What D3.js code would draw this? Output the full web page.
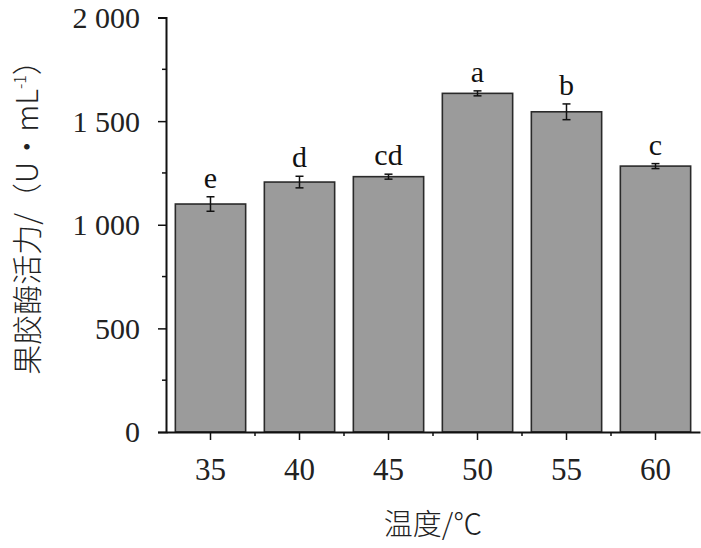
<!DOCTYPE html>
<html lang="zh">
<head>
<meta charset="UTF-8">
<title>果胶酶活力-温度</title>
<script src="https://d3js.org/d3.v7.min.js"></script>
<style>
  body { margin: 0; background: #fff; }
</style>
</head>
<body>
<script>
// 数据
var temps = ["35", "40", "45", "50", "55", "60"];
var activity = [1100, 1206, 1232, 1634, 1545, 1283];
var errors = [35, 28, 12, 12, 38, 12];
var letters = ["e", "d", "cd", "a", "b", "c"];
var yTicks = [0, 500, 1000, 1500, 2000];
var yTickLabels = ["0", "500", "1 000", "1 500", "2 000"];

var serif = "'Liberation Serif', 'DejaVu Serif', serif";
var cjk = "'Noto Sans CJK SC', sans-serif";

var width = 701, height = 548;
var margin = {left: 166, right: 1, top: 17.5, bottom: 116};

var svg = d3.select("body").append("svg")
    .attr("width", width)
    .attr("height", height);

var x = d3.scaleBand()
    .domain(temps)
    .range([margin.left, width - margin.right])
    .paddingInner(0.21)
    .paddingOuter(0.105);

var y = d3.scaleLinear()
    .domain([0, 2000])
    .range([height - margin.bottom, margin.top]);

// 柱子
svg.selectAll("rect.bar")
    .data(activity)
    .enter()
    .append("rect")
    .attr("class", "bar")
    .attr("x", function(d, i) { return x(temps[i]); })
    .attr("y", function(d) { return y(d); })
    .attr("width", x.bandwidth())
    .attr("height", function(d) { return y(0) - y(d); })
    .attr("fill", "#9b9b9b")
    .attr("stroke", "#2a2a2a")
    .attr("stroke-width", 1.6);

// 误差线
var cap = 4;
var eb = svg.selectAll("g.err")
    .data(activity)
    .enter()
    .append("g")
    .attr("class", "err")
    .attr("stroke", "#111")
    .attr("stroke-width", 1.5);
eb.append("line")
    .attr("x1", function(d, i) { return x(temps[i]) + x.bandwidth() / 2; })
    .attr("x2", function(d, i) { return x(temps[i]) + x.bandwidth() / 2; })
    .attr("y1", function(d, i) { return y(d - errors[i]); })
    .attr("y2", function(d, i) { return y(d + errors[i]); });
eb.append("line")
    .attr("x1", function(d, i) { return x(temps[i]) + x.bandwidth() / 2 - cap; })
    .attr("x2", function(d, i) { return x(temps[i]) + x.bandwidth() / 2 + cap; })
    .attr("y1", function(d, i) { return y(d + errors[i]); })
    .attr("y2", function(d, i) { return y(d + errors[i]); });
eb.append("line")
    .attr("x1", function(d, i) { return x(temps[i]) + x.bandwidth() / 2 - cap; })
    .attr("x2", function(d, i) { return x(temps[i]) + x.bandwidth() / 2 + cap; })
    .attr("y1", function(d, i) { return y(d - errors[i]); })
    .attr("y2", function(d, i) { return y(d - errors[i]); });

// 显著性字母
svg.selectAll("text.sig")
    .data(letters)
    .enter()
    .append("text")
    .attr("class", "sig")
    .attr("x", function(d, i) { return x(temps[i]) + x.bandwidth() / 2; })
    .attr("y", function(d, i) { return y(activity[i] + errors[i]) - 9; })
    .attr("text-anchor", "middle")
    .attr("font-family", serif)
    .attr("font-size", 30)
    .attr("fill", "#111")
    .text(function(d) { return d; });

// y 轴
var yAxis = d3.axisLeft(y)
    .tickValues(yTicks)
    .tickSize(8)
    .tickPadding(18)
    .tickFormat(function(d, i) { return yTickLabels[i]; });
var gy = svg.append("g")
    .attr("transform", "translate(" + margin.left + ",0)")
    .call(yAxis)
    .attr("font-family", serif)
    .attr("font-size", 30);
gy.select(".domain").attr("stroke", "#111").attr("stroke-width", 2);
gy.selectAll(".tick line").attr("stroke", "#111").attr("stroke-width", 1.5);
gy.selectAll(".tick text")
    .attr("font-family", serif)
    .attr("fill", "#222")
    .attr("dy", "0.33em");

// y 次刻度
svg.selectAll("line.yminor")
    .data([250, 750, 1250, 1750])
    .enter()
    .append("line")
    .attr("x1", margin.left - 4)
    .attr("x2", margin.left)
    .attr("y1", function(d) { return y(d); })
    .attr("y2", function(d) { return y(d); })
    .attr("stroke", "#111")
    .attr("stroke-width", 1.5);

// x 轴
var xAxis = d3.axisBottom(x)
    .tickSize(8)
    .tickSizeOuter(0)
    .tickPadding(18);
var gx = svg.append("g")
    .attr("transform", "translate(0," + y(0) + ")")
    .call(xAxis)
    .attr("font-family", serif)
    .attr("font-size", 31);
gx.select(".domain").attr("stroke", "#111").attr("stroke-width", 2);
gx.selectAll(".tick line").attr("stroke", "#111").attr("stroke-width", 1.5);
gx.selectAll(".tick text")
    .attr("font-family", serif)
    .attr("fill", "#222")
    .attr("dy", "0.71em");

// x 次刻度（分类边界）
var step = x.step();
svg.selectAll("line.xminor")
    .data(temps.slice(1))
    .enter()
    .append("line")
    .attr("x1", function(d) { return x(d) + x.bandwidth() / 2 - step / 2; })
    .attr("x2", function(d) { return x(d) + x.bandwidth() / 2 - step / 2; })
    .attr("y1", y(0))
    .attr("y2", y(0) + 4)
    .attr("stroke", "#111")
    .attr("stroke-width", 1.5);

// 轴标题
svg.append("text")
    .attr("x", (margin.left + width - margin.right) / 2)
    .attr("y", 535)
    .attr("text-anchor", "middle")
    .attr("font-family", cjk)
    .attr("font-weight", 300)
    .attr("fill", "#222")
    .attr("font-size", 29)
    .text("温度/℃");

var yt = svg.append("text")
    .attr("transform", "translate(38,210) rotate(-90)")
    .attr("text-anchor", "middle")
    .attr("font-family", cjk)
    .attr("font-weight", 300)
    .attr("fill", "#222")
    .attr("font-size", 30);
yt.append("tspan").text("果胶酶活力/（U•mL");
yt.append("tspan").attr("font-size", 16).attr("dy", -12).text("-1");
yt.append("tspan").attr("dy", 12).text("）");
</script>
</body>
</html>
